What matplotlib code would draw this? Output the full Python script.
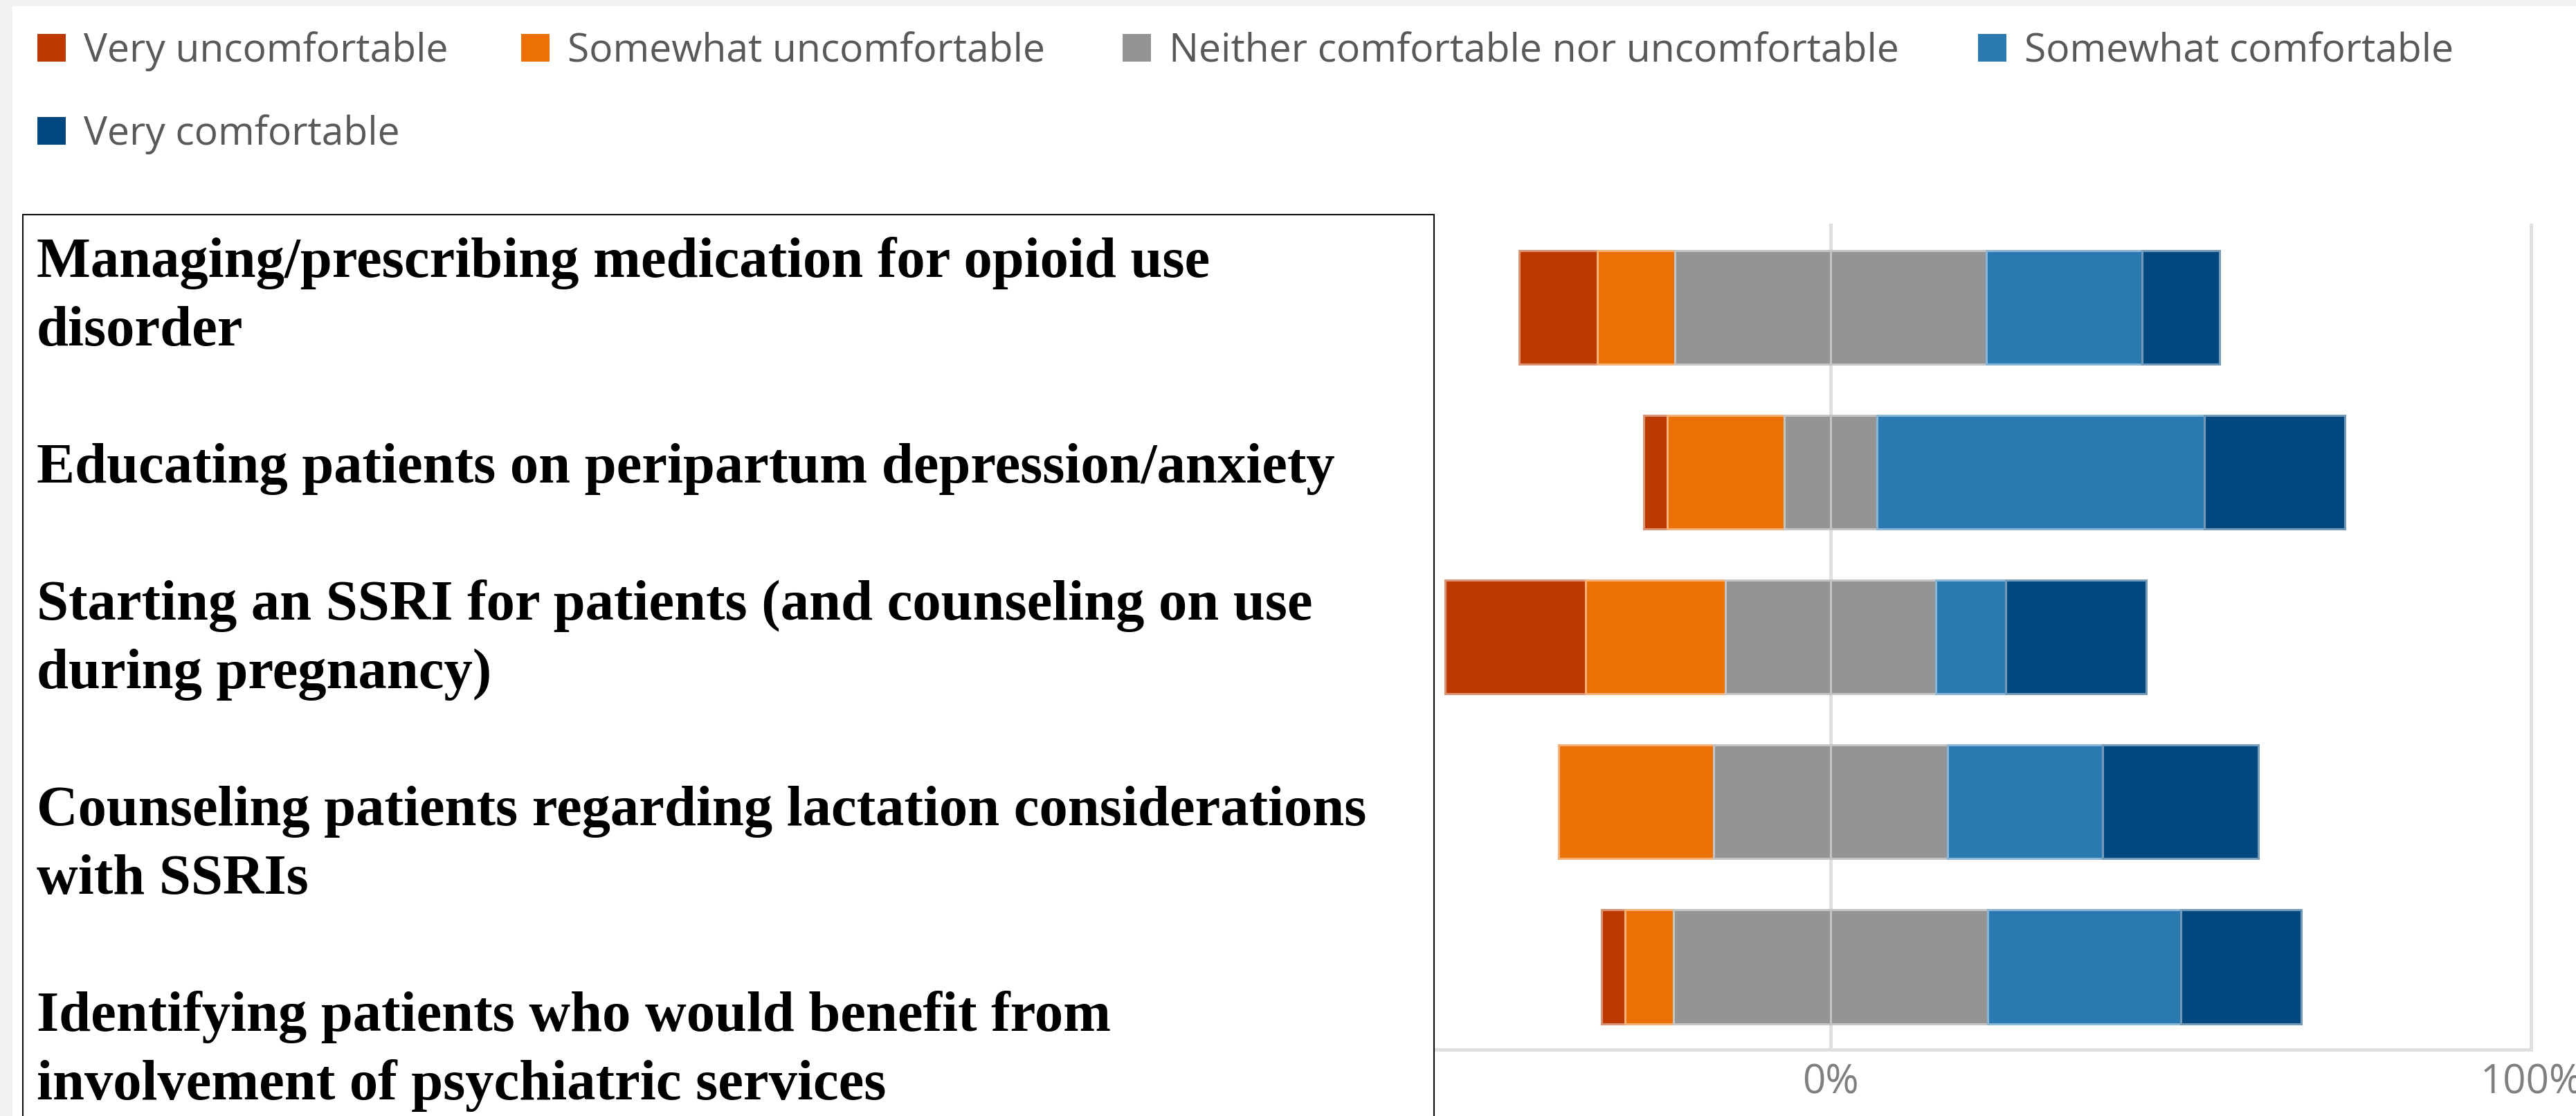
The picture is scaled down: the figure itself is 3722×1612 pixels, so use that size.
import numpy as np
import matplotlib
matplotlib.use('Agg')
import matplotlib.pyplot as plt
from matplotlib.patches import Rectangle
from matplotlib.colors import to_rgb

plt.rcParams.update({
    'font.family': ['Open Sans', 'DejaVu Sans'],
    'axes.unicode_minus': False,
})

W, H, DPI = 3723, 1612, 100

# ── data (percent of respondents) ─────────────────────────
labels = [
    ["Managing/prescribing medication for opioid use", "disorder"],
    ["Educating patients on peripartum depression/anxiety"],
    ["Starting an SSRI for patients (and counseling on use", "during pregnancy)"],
    ["Counseling patients regarding lactation considerations", "with SSRIs"],
    ["Identifying patients who would benefit from", "involvement of psychiatric services"],
]
levels = ['Very uncomfortable', 'Somewhat uncomfortable',
          'Neither comfortable nor uncomfortable', 'Somewhat comfortable',
          'Very comfortable']
very_unc     = np.array([11.1,  3.3, 20.0,  0.0,  3.4])
somewhat_unc = np.array([11.1, 16.7, 20.0, 22.2,  6.9])
neither      = np.array([44.4, 13.3, 30.0, 33.3, 44.8])
somewhat_com = np.array([22.2, 46.7, 10.0, 22.2, 27.6])
very_com     = np.array([11.1, 20.0, 20.0, 22.2, 17.2])

COLORS = ['#BC3A02', '#EB7006', '#949494', '#2A79B0', '#01487F']
GRID = '#E0E0E0'
BG = '#F2F2F2'


def tint(c, amt=0.45):
    return tuple(np.array(to_rgb(c)) * (1 - amt) + amt)


def add_rect(x0, y0, x1, y1, **kw):
    # pixel coords, origin top-left
    fig.add_artist(Rectangle((x0 / W, 1 - y1 / H), (x1 - x0) / W, (y1 - y0) / H,
                             transform=fig.transFigure, **kw))


fig = plt.figure(figsize=(W / DPI, H / DPI), dpi=DPI)
fig.patch.set_facecolor('white')

# window-ish gray borders
add_rect(0, 0, W, 9, facecolor=BG, edgecolor='none', zorder=1)
add_rect(0, 0, 18, H, facecolor=BG, edgecolor='none', zorder=1)

# ── diverging stacked bars ────────────────────────────────
ax = fig.add_axes([1632.5 / W, 1 - 1515.5 / H, (3657.5 - 1632.5) / W, (1515.5 - 325) / H])
y = np.arange(len(labels))
segs = [very_unc, somewhat_unc, neither / 2, neither / 2, somewhat_com, very_com]
seg_cols = [COLORS[0], COLORS[1], COLORS[2], COLORS[2], COLORS[3], COLORS[4]]
start = -(very_unc + somewhat_unc + neither / 2) / 100
for vals, c in zip(segs, seg_cols):
    ax.barh(y, vals / 100, left=start, height=0.69, color=c,
            edgecolor=tint(c), linewidth=2.2, zorder=2)
    start = start + vals / 100

for xv in (-1, 0, 1):
    ax.axvline(xv, color=GRID, lw=3.6, zorder=0.5, clip_on=False)

ax.set_xlim(-1, 1)
ax.set_ylim(len(labels) - 0.5, -0.5)
ax.set_yticks([])
ax.set_xticks([-1, 0, 1])
ax.set_xticklabels(['-100%', '0%', '100%'])
ax.tick_params(axis='x', length=0, pad=14, labelsize=42, labelcolor='#7F7F7F')
for s in ['top', 'right', 'left']:
    ax.spines[s].set_visible(False)
ax.spines['bottom'].set_color(GRID)
ax.spines['bottom'].set_linewidth(3.6)

# ── legend ────────────────────────────────────────────────
leg_pos = [(54, 89), (753, 89), (1622, 89), (2858, 89), (54, 209)]
for (lx, ly), name, c in zip(leg_pos, levels, COLORS):
    add_rect(lx, ly - 40, lx + 41, ly, facecolor=c, edgecolor='none', zorder=3)
    fig.text((lx + 67) / W, 1 - ly / H, name, fontsize=41, color='#595959',
             va='baseline', ha='left')

# ── text box with item wording ────────────────────────────
add_rect(33, 310, 2072, H + 40, facecolor='white', edgecolor='#0D0D0D',
         linewidth=1.5, zorder=5)
k = 0
for item in labels:
    for line in item:
        fig.text(53 / W, 1 - (400 + 99 * k) / H, line, fontsize=59.5,
                 family=['Liberation Serif', 'DejaVu Serif'], fontweight='bold',
                 color='black', va='baseline', ha='left', zorder=6)
        k += 1
    k += 1

fig.savefig('out.png', dpi=DPI, facecolor='white')
